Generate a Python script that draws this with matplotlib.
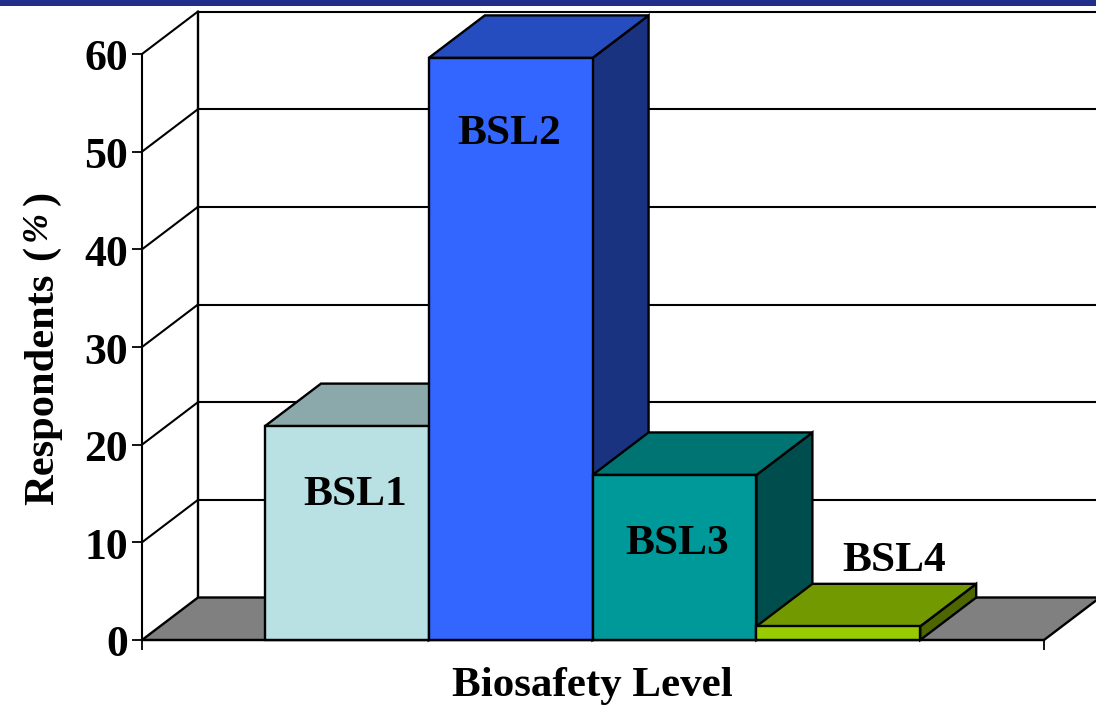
import matplotlib
matplotlib.use("Agg")
import matplotlib.pyplot as plt
from matplotlib.patches import Polygon, Rectangle
from matplotlib.transforms import ScaledTranslation

levels = ["BSL1", "BSL2", "BSL3", "BSL4"]
values = [21.9, 59.6, 16.9, 1.4]
y_ticks = [0, 10, 20, 30, 40, 50, 60]
front_colors = ["#b9e1e4", "#3366ff", "#009999", "#99cc00"]
top_colors = ["#8ba9ab", "#264dbf", "#007373", "#739900"]
side_colors = ["#5d7172", "#1a3380", "#004d4d", "#4d6600"]

W, H = 1105, 705
LEFT, RIGHT, BASE, TOP = 142, 1044, 640, 54
EDGE = 1096  # the picture is cut off here, the rest stays white

plt.rcParams["font.family"] = ["Liberation Serif", "DejaVu Serif"]
plt.rcParams["font.weight"] = "bold"

fig = plt.figure(figsize=(W / 100, H / 100), dpi=100)
ax = fig.add_axes([LEFT / W, 1 - BASE / H, (RIGHT - LEFT) / W, (BASE - TOP) / H])
ax.set_xlim(0, 1)
ax.set_ylim(0, 60)
ax.patch.set_alpha(0)

# depth of the 3d box in data units
dx = 56 / (RIGHT - LEFT)
dy = 42.5 / (BASE - TOP) * 60
bar_w = 163.8 / (RIGHT - LEFT)
start = 123 / (RIGHT - LEFT)
LW = 1.7

# top band
fig.add_artist(Rectangle((0, 1 - 6 / H), EDGE / W, 6 / H, transform=fig.transFigure,
                         facecolor="#1f2f8a", edgecolor="none"))

# walls and gridlines
for t in y_ticks[1:]:
    ax.plot([0, dx], [t, t + dy], color="k", lw=1.5, clip_on=False, zorder=1)
    ax.plot([dx, 1 + dx], [t + dy, t + dy], color="k", lw=1.5, clip_on=False, zorder=1)
ax.plot([dx, dx], [dy, 60 + dy], color="k", lw=1.7, clip_on=False, zorder=1)

# floor
ax.add_patch(Polygon([(0, 0), (1, 0), (1 + dx, dy), (dx, dy)], closed=True,
                     facecolor="#808080", edgecolor="k", lw=LW, clip_on=False, zorder=2))

# bars
for i, v in enumerate(values):
    x0 = start + i * bar_w
    x1 = x0 + bar_w
    ax.add_patch(Polygon([(x1, 0), (x1 + dx, dy), (x1 + dx, v + dy), (x1, v)], closed=True,
                         facecolor=side_colors[i], edgecolor="k", lw=LW, clip_on=False, zorder=3))
    ax.add_patch(Polygon([(x0, v), (x1, v), (x1 + dx, v + dy), (x0 + dx, v + dy)], closed=True,
                         facecolor=top_colors[i], edgecolor="k", lw=LW, clip_on=False, zorder=3))
    ax.add_patch(Rectangle((x0, 0), bar_w, v, facecolor=front_colors[i], edgecolor="k",
                           lw=LW, clip_on=False, zorder=3))

# bar labels sit at hand placed spots in the original
label_x = [0.2364, 0.4075, 0.5930, 0.8340]
label_y = [14.85, 51.8, 9.85, 8.05]
for name, lx, ly in zip(levels, label_x, label_y):
    ax.text(lx, ly, name, ha="center", va="center", fontsize=31.2, fontweight="bold",
            color="k", zorder=5)

ax.set_yticks(y_ticks)
ax.set_xticks([0, 1])
ax.set_xticklabels([])
ax.tick_params(axis="both", length=7.2, width=1.3, direction="out", color="k")
ax.tick_params(axis="y", labelsize=31.5, pad=3)
for lab in ax.get_yticklabels():
    lab.set_transform(lab.get_transform() + ScaledTranslation(0, -1 / 100, fig.dpi_scale_trans))
for s in ["top", "right"]:
    ax.spines[s].set_visible(False)
for s in ["left", "bottom"]:
    ax.spines[s].set_linewidth(1.5)
    ax.spines[s].set_zorder(4)

fig.text(592 / W, 1 - 686 / H, "Biosafety Level", ha="center", va="center", fontsize=31, fontweight="bold")

# y label is built from pieces, the % is a slanted glyph with wide gaps
fig.text(53 / W, 1 - 505 / H, "Respondents", ha="left", va="baseline", rotation=90, rotation_mode="anchor",
         fontsize=30.6, fontweight="bold")
fig.text(41 / W, 1 - 253 / H, "(", ha="center", va="center", rotation=90, fontsize=30.6)
fig.text(37 / W, 1 - 226 / H, "%", ha="center", va="center", rotation=90, fontsize=26, style="italic")
fig.text(41 / W, 1 - 198 / H, ")", ha="center", va="center", rotation=90, fontsize=30.6)

# white strip past the cut
fig.add_artist(Rectangle((EDGE / W, 0), (W - EDGE) / W, 1, transform=fig.transFigure,
                         facecolor="white", edgecolor="none", zorder=10))

fig.savefig("out.png", dpi=100)
